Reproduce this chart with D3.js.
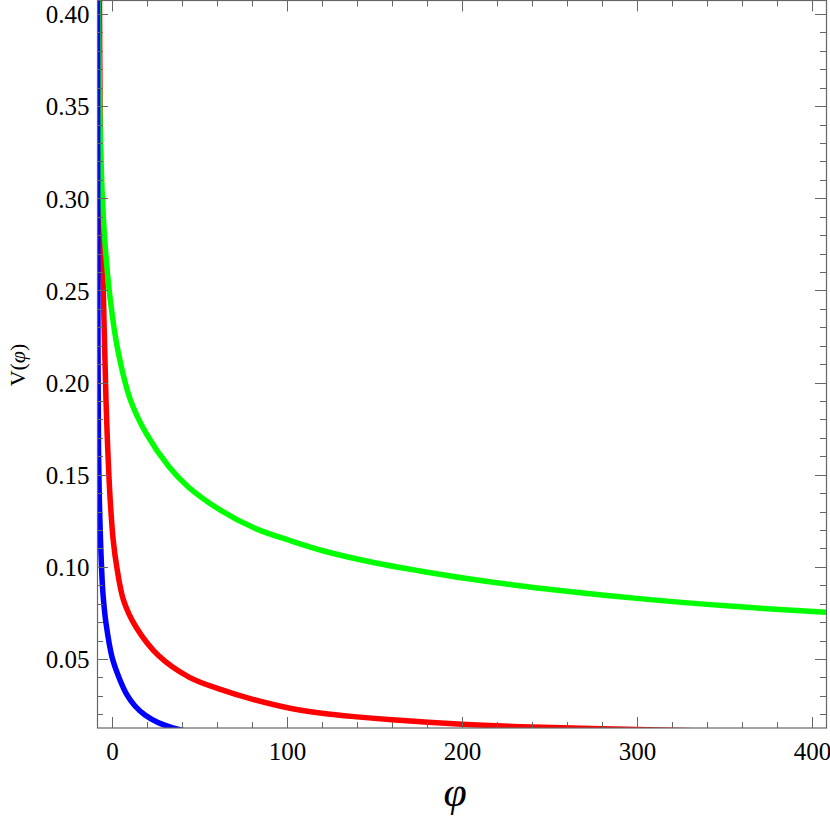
<!DOCTYPE html>
<html>
<head>
<meta charset="utf-8">
<script src="https://cdn.jsdelivr.net/npm/d3@7"></script>
<style>
html,body{margin:0;padding:0;background:#fff;}
svg{display:block;}
svg text{font-family:"Liberation Serif","Times New Roman","DejaVu Serif",serif;}
</style>
</head>
<body>
<svg id="chart" width="830" height="819"></svg>
<script>
// ---- data ----
const greenPhi = [-8.0, -7.89, -7.09, -6.46, -5.43, -3.71, -0.97, 3.31, 10.57, 19.43, 32.57, 43.43, 61.71, 81.71, 101.71, 122.69, 149.31, 176.0, 202.69, 229.31, 256.0, 299.83, 355.03, 408.0, 413.1];
const greenV   = [0.4184, 0.4076, 0.3533, 0.3262, 0.2991, 0.2719, 0.2448, 0.2177, 0.1905, 0.1726, 0.1543, 0.1435, 0.1309, 0.1209, 0.1143, 0.1082, 0.1024, 0.0978, 0.0937, 0.0902, 0.0872, 0.0829, 0.0786, 0.0753, 0.0751];

const redPhi = [-7.26, -7.14, -6.86, -6.29, -4.86, -3.43, -2.40, -1.03, 0.69, 2.74, 6.57, 13.71, 26.86, 44.0, 62.86, 80, 101.71, 120, 140, 160, 200, 240, 280, 320, 360, 412];
const redV   = [0.4184, 0.4076, 0.3533, 0.2991, 0.2448, 0.1905, 0.1634, 0.1363, 0.1146, 0.0999, 0.0820, 0.0674, 0.0516, 0.0402, 0.0332, 0.0282, 0.0233, 0.0206, 0.0186, 0.0170, 0.0146, 0.0131, 0.0121, 0.0113, 0.0107, 0.0101];

const bluePhi = [-8.34, -8.29, -8.17, -8.0, -7.71, -6.97, -5.54, -4.86, -3.43, 0.0, 4.57, 8.57, 13.14, 18.86, 26.29, 34.29, 44.57, 58.9];
const blueV   = [0.4184, 0.4076, 0.2991, 0.2177, 0.1634, 0.1271, 0.0912, 0.0820, 0.0695, 0.0511, 0.0386, 0.0305, 0.0245, 0.0196, 0.0155, 0.0128, 0.0104, 0.0082];

const xMajorTicks = [0, 100, 200, 300, 400];
const xMinorTicks = [20, 40, 60, 80, 120, 140, 160, 180, 220, 240, 260, 280, 320, 340, 360, 380];
const yMajorTicks = [0.05, 0.10, 0.15, 0.20, 0.25, 0.30, 0.35, 0.40];
const yMinorTicks = [0.02, 0.03, 0.04, 0.06, 0.07, 0.08, 0.09, 0.11, 0.12, 0.13, 0.14, 0.16, 0.17, 0.18, 0.19, 0.21, 0.22, 0.23, 0.24, 0.26, 0.27, 0.28, 0.29, 0.31, 0.32, 0.33, 0.34, 0.36, 0.37, 0.38, 0.39];
const xLabel = "φ";
const yLabel = ["V(", "φ", ")"];

// ---- layout ----
const L = 97, R = 826, T = 0.5, B = 728;
const FONT = '"Liberation Serif","Times New Roman","DejaVu Serif",serif';
const svg = d3.select("#chart");
const x = d3.scaleLinear().domain([-8.57, 408]).range([L, R]);
const y = d3.scaleLinear().domain([0.01256, 0.4076]).range([B, 0]);

svg.append("defs").append("clipPath").attr("id", "clip")
  .append("rect").attr("x", L).attr("y", T).attr("width", R - L).attr("height", B - T);

const line = d3.line().x(d => x(d[0])).y(d => y(d[1])).curve(d3.curveCatmullRom.alpha(0.5));
const plot = svg.append("g").attr("clip-path", "url(#clip)");
const series = [
  {phi: redPhi, v: redV, color: "#ff0000"},
  {phi: greenPhi, v: greenV, color: "#00ff00"},
  {phi: bluePhi, v: blueV, color: "#0000ff"}
];
series.forEach(s => {
  plot.append("path")
    .datum(s.phi.map((p, i) => [p, s.v[i]]))
    .attr("d", line)
    .attr("fill", "none")
    .attr("stroke", s.color)
    .attr("stroke-width", 5.5)
    .attr("stroke-linejoin", "round");
});

// ---- frame with ticks on all four sides ----
const fc = "#666";
const major = 11, minor = 6;
const fr = svg.append("g");
const bottom = d3.axisBottom(x).tickValues(xMajorTicks).tickSize(0).tickPadding(0).tickFormat(d3.format("d"));
fr.append("g").attr("transform", `translate(0,${B})`).call(bottom)
  .attr("font-family", null).attr("font-size", null)
  .call(g => g.select(".domain").remove())
  .call(g => g.selectAll("text").attr("y", 32).attr("dy", null)
    .style("font-family", FONT).style("font-size", "25px").attr("fill", "#000"));
const left = d3.axisLeft(y).tickValues(yMajorTicks).tickSize(0).tickPadding(0).tickFormat(d3.format(".2f"));
fr.append("g").attr("transform", `translate(${L},0)`).call(left)
  .attr("font-family", null).attr("font-size", null)
  .call(g => g.select(".domain").remove())
  .call(g => g.selectAll("text").attr("x", -7.5).attr("dy", "0.35em")
    .style("font-family", FONT).style("font-size", "25px").attr("fill", "#000"));

const tk = fr.append("g").attr("stroke", fc).attr("stroke-width", 1);
function xt(vals, len) {
  vals.forEach(v => {
    const px = Math.round(x(v)) + 0.5;
    tk.append("line").attr("x1", px).attr("x2", px).attr("y1", B).attr("y2", B - len);
    tk.append("line").attr("x1", px).attr("x2", px).attr("y1", T).attr("y2", T + len);
  });
}
function yt(vals, len) {
  vals.forEach(v => {
    const py = Math.round(y(v)) + 0.5;
    tk.append("line").attr("x1", L).attr("x2", L + len).attr("y1", py).attr("y2", py);
    tk.append("line").attr("x1", R).attr("x2", R - len).attr("y1", py).attr("y2", py);
  });
}
xt(xMajorTicks, major); xt(xMinorTicks, minor);
yt(yMajorTicks, major); yt(yMinorTicks, minor);

fr.append("rect").attr("x", L + 0.5).attr("y", T).attr("width", R - L).attr("height", B - T)
  .attr("fill", "none").attr("stroke", fc).attr("stroke-width", 1.2);

// ---- axis titles ----
svg.append("text").attr("x", 455).attr("y", 806).attr("text-anchor", "middle")
  .style("font-family", FONT).style("font-style", "italic")
  .style("font-size", "42px").attr("fill", "#000").text(xLabel);
svg.append("text").attr("transform", "translate(25,365) rotate(-90)").attr("text-anchor", "middle")
  .style("font-family", FONT).style("font-size", "22px").attr("fill", "#000")
  .call(t => {
    t.append("tspan").text(yLabel[0]);
    t.append("tspan").style("font-style", "italic").text(yLabel[1]);
    t.append("tspan").text(yLabel[2]);
  });
</script>
</body>
</html>
